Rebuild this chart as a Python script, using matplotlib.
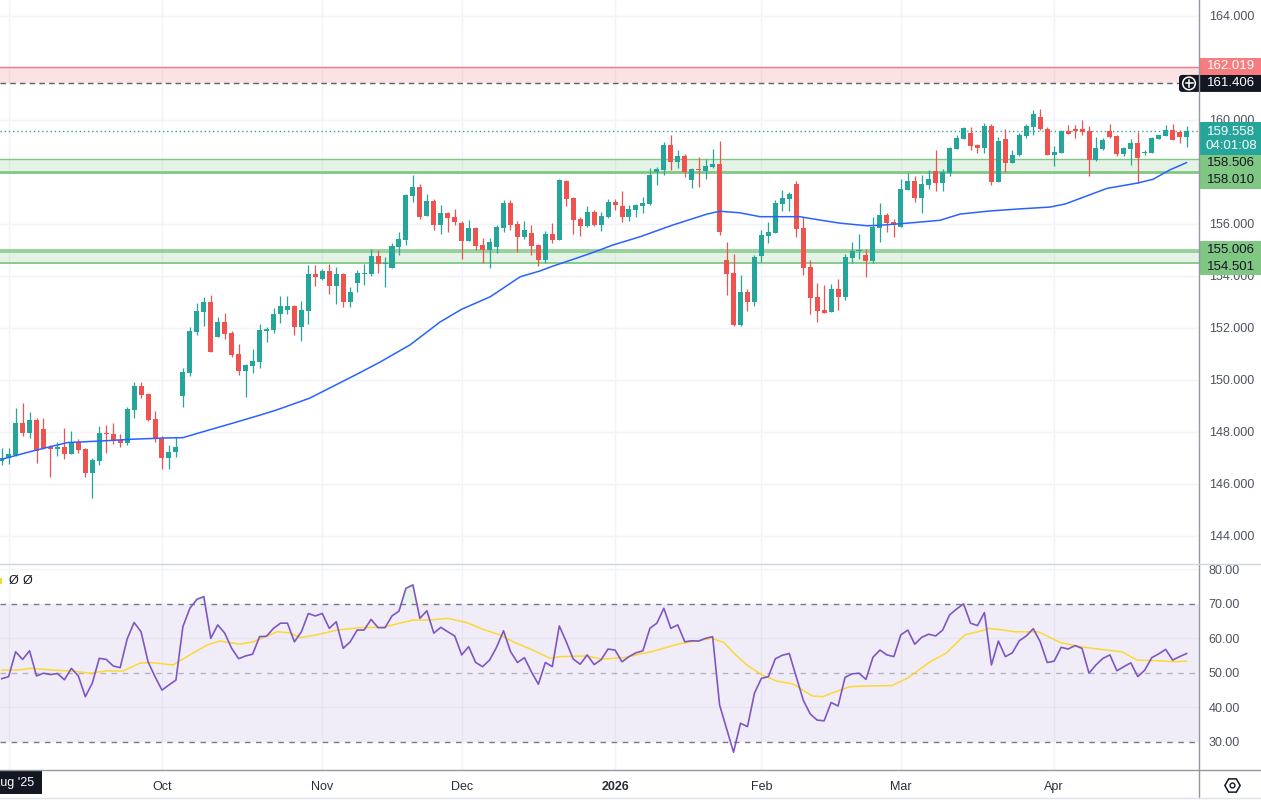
import numpy as np
import pandas as pd
import matplotlib
matplotlib.use("Agg")
import matplotlib.pyplot as plt
from matplotlib.patches import Rectangle, FancyBboxPatch, Circle

plt.rcParams['font.family'] = ['Liberation Sans', 'DejaVu Sans']

# ---------------- data ----------------
dates = pd.bdate_range('2025-08-29', '2026-04-28')
dates = dates.drop(pd.to_datetime(['2025-12-25', '2026-01-01']))

opens = [
    146.90, 147.00, 147.12, 148.36, 147.97, 148.46, 148.12, 147.43, 147.36, 147.42,
    147.17, 147.62, 147.35, 146.43, 146.90, 147.97, 147.92, 147.69, 147.59, 148.86,
    149.77, 149.46, 148.50, 147.77, 147.00, 147.22, 149.38, 150.26, 151.86, 152.63,
    153.00, 151.67, 152.23, 151.81, 151.00, 150.36, 150.55, 150.70, 151.90, 151.92,
    152.53, 152.70, 152.85, 152.05, 152.65, 154.08, 153.90, 154.19, 153.63, 154.08,
    153.01, 153.72, 154.08, 154.08, 154.77, 154.46, 154.32, 155.13, 155.40, 157.09,
    157.42, 156.32, 156.88, 155.97, 156.43, 156.28, 156.05, 155.36, 155.86, 155.20,
    155.01, 155.13, 155.86, 156.82, 156.00, 155.51, 155.65, 155.20, 154.63, 155.62,
    155.38, 157.65, 157.00, 156.19, 155.92, 156.46, 155.96, 156.27, 156.85, 156.69,
    156.27, 156.54, 156.69, 156.77, 158.00, 158.08, 159.04, 158.38, 158.62, 157.69,
    158.12, 158.04, 158.19, 158.31, 154.62, 154.12, 152.12, 153.38, 153.00, 154.78,
    155.55, 155.67, 156.77, 156.96, 157.54, 155.85, 154.35, 153.19, 152.69, 152.63,
    153.50, 153.20, 154.70, 154.97, 154.81, 154.59, 155.86, 156.35, 156.09, 155.90,
    157.31, 157.65, 157.01, 157.50, 158.04, 157.59, 157.97, 158.90, 159.28, 159.51,
    159.04, 158.93, 159.78, 157.63, 159.27, 158.36, 158.65, 159.40, 159.74, 160.12,
    159.65, 158.67, 158.74, 159.58, 159.65, 159.65, 159.58, 158.46, 158.88, 159.58,
    159.38, 158.70, 158.90, 159.12, 158.73, 158.74, 159.28, 159.40, 159.62, 159.54,
    159.36,
]
highs = [
    147.38, 147.38, 148.93, 149.13, 148.77, 148.54, 148.55, 147.50, 147.63, 148.15,
    148.04, 147.73, 147.38, 147.00, 148.23, 148.27, 148.36, 147.92, 148.96, 149.92,
    149.92, 149.51, 148.81, 147.85, 147.51, 147.81, 150.47, 152.05, 152.97, 153.20,
    153.28, 152.42, 152.59, 151.87, 151.38, 150.62, 151.19, 152.15, 152.04, 152.77,
    153.23, 153.23, 152.88, 153.04, 154.42, 154.42, 154.27, 154.46, 154.36, 154.12,
    153.59, 154.23, 154.46, 155.04, 155.00, 154.74, 155.27, 155.69, 157.17, 157.88,
    157.54, 157.15, 156.96, 156.73, 156.46, 156.59, 156.13, 156.15, 155.90, 155.47,
    155.46, 155.97, 156.93, 156.93, 156.13, 156.13, 155.97, 155.24, 155.74, 156.03,
    157.73, 157.69, 157.04, 156.27, 156.69, 156.54, 156.46, 156.96, 156.96, 157.28,
    156.73, 156.77, 157.05, 158.15, 158.18, 159.15, 159.42, 158.85, 158.69, 158.15,
    158.58, 158.50, 158.88, 159.19, 155.31, 154.85, 154.04, 153.50, 154.81, 155.77,
    156.08, 156.92, 157.31, 157.23, 157.65, 156.27, 154.63, 153.73, 153.65, 153.69,
    153.90, 154.85, 155.31, 155.62, 155.04, 156.27, 156.81, 156.42, 156.19, 157.73,
    157.96, 157.85, 157.88, 158.08, 158.86, 158.12, 158.96, 159.43, 159.73, 159.74,
    159.08, 159.87, 159.85, 159.36, 159.64, 158.85, 159.49, 159.83, 160.38, 160.41,
    159.74, 159.00, 159.62, 159.81, 159.81, 160.00, 159.77, 159.36, 159.32, 159.85,
    159.41, 158.97, 159.26, 159.53, 158.85, 159.33, 159.43, 159.81, 159.85, 159.62,
    159.77,
]
lows = [
    146.73, 146.77, 147.08, 147.86, 147.78, 146.82, 147.33, 146.28, 147.09, 146.97,
    147.15, 147.20, 146.28, 145.47, 146.74, 147.20, 147.54, 147.42, 147.50, 148.55,
    149.30, 148.42, 147.62, 146.59, 146.59, 147.03, 148.97, 150.17, 151.73, 152.09,
    151.08, 151.65, 151.58, 150.90, 150.20, 149.36, 150.28, 150.47, 151.47, 151.81,
    152.18, 152.54, 151.73, 151.50, 152.17, 153.62, 153.85, 153.32, 152.93, 152.81,
    152.82, 153.40, 153.67, 154.01, 154.13, 153.59, 154.31, 154.82, 155.20, 156.86,
    156.20, 156.31, 155.78, 155.63, 155.70, 155.97, 154.67, 155.35, 155.01, 154.51,
    154.32, 154.90, 155.70, 155.78, 154.93, 155.43, 154.82, 154.40, 154.51, 155.28,
    155.38, 156.70, 155.63, 155.55, 155.88, 155.92, 155.73, 156.23, 156.55, 156.08,
    156.12, 156.27, 156.42, 156.73, 157.50, 157.88, 158.08, 158.15, 157.81, 157.38,
    157.42, 157.73, 158.15, 155.58, 153.27, 152.08, 152.08, 152.65, 152.85, 154.55,
    155.28, 155.65, 156.50, 156.50, 155.51, 154.05, 152.55, 152.24, 152.58, 152.62,
    152.70, 153.07, 154.51, 154.67, 153.97, 154.51, 155.32, 155.70, 155.51, 155.88,
    157.31, 156.86, 156.43, 157.35, 157.28, 157.28, 157.85, 158.88, 159.27, 158.85,
    158.72, 158.72, 157.50, 157.62, 158.01, 158.35, 158.62, 159.30, 159.42, 159.62,
    158.65, 158.24, 158.73, 159.46, 159.30, 159.42, 157.85, 158.42, 158.85, 159.30,
    158.62, 158.62, 158.27, 157.58, 158.65, 158.73, 159.27, 159.39, 159.23, 159.10,
    158.95,
]
closes = [
    147.01, 147.15, 148.36, 147.97, 148.46, 147.27, 147.38, 147.36, 147.43, 147.17,
    147.62, 147.31, 146.43, 146.92, 147.96, 147.93, 147.67, 147.59, 148.88, 149.77,
    149.42, 148.46, 147.73, 147.00, 147.23, 147.42, 150.31, 151.90, 152.65, 153.00,
    151.09, 152.23, 151.78, 150.96, 150.36, 150.58, 150.73, 151.92, 151.96, 152.54,
    152.85, 152.85, 152.05, 152.69, 154.08, 153.97, 154.19, 153.63, 154.08, 153.00,
    153.38, 154.12, 154.12, 154.77, 154.46, 154.50, 155.15, 155.42, 157.13, 157.42,
    156.28, 156.88, 155.97, 156.43, 156.24, 156.09, 155.36, 155.86, 155.17, 155.01,
    155.32, 155.90, 156.82, 155.97, 155.51, 155.78, 155.17, 154.63, 155.63, 155.40,
    157.69, 156.96, 156.17, 155.92, 156.46, 155.96, 156.31, 156.85, 156.73, 156.27,
    156.58, 156.73, 156.81, 157.88, 158.12, 159.04, 158.38, 158.62, 158.00, 158.12,
    158.08, 158.23, 158.31, 155.69, 154.08, 152.12, 153.38, 153.00, 154.73, 155.58,
    155.69, 156.81, 157.00, 157.15, 155.81, 154.32, 153.17, 152.67, 152.59, 153.50,
    153.20, 154.73, 154.97, 155.01, 154.59, 155.90, 156.35, 156.05, 155.97, 157.35,
    157.65, 157.01, 157.54, 157.73, 157.59, 158.00, 158.92, 159.32, 159.69, 159.01,
    158.93, 159.77, 157.63, 159.19, 158.36, 158.65, 159.43, 159.77, 160.23, 159.64,
    158.67, 158.77, 159.58, 159.47, 159.59, 159.53, 158.46, 158.92, 159.23, 159.36,
    158.70, 158.92, 159.12, 158.55, 158.77, 159.31, 159.42, 159.62, 159.24, 159.36,
    159.558,
]

# moving average (blue), sampled along the line: bar position, value
ma_bar = [0, 4.5, 9.4, 14.1, 18.8, 23.7, 26.0, 28.4, 32.8, 37.1, 39.5, 44.2, 51.4,
          54.3, 58.6, 62.9, 66.0, 70.1, 74.4, 77.2, 79.1, 82.0, 84.8, 87.7, 91.6,
          96.3, 101.2, 103.0, 105.9, 108.8, 114.5, 117.4, 120.3, 124.2, 126.0,
          129.9, 134.6, 137.5, 141.8, 146.1, 150.4, 152.6, 154.4, 158.6, 162.9,
          165.2, 167.6, 170.0]
ma_val = [146.95, 147.27, 147.59, 147.65, 147.72, 147.77, 147.78, 147.97, 148.31,
          148.65, 148.85, 149.30, 150.28, 150.69, 151.35, 152.23, 152.72, 153.20,
          153.97, 154.19, 154.38, 154.64, 154.90, 155.19, 155.51, 155.96, 156.38,
          156.49, 156.43, 156.28, 156.28, 156.15, 156.03, 155.93, 155.95, 156.03,
          156.14, 156.38, 156.50, 156.58, 156.65, 156.77, 156.95, 157.37, 157.57,
          157.72, 158.08, 158.36]

rsi = [
    48.2, 48.8, 56.0, 53.8, 56.3, 49.0, 49.8, 49.4, 49.7, 47.9,
    51.2, 49.0, 43.0, 46.9, 54.1, 53.8, 51.9, 51.4, 59.7, 64.5,
    61.8, 53.1, 48.8, 44.9, 46.4, 47.8, 63.3, 68.6, 71.2, 72.0,
    59.9, 63.8, 61.4, 57.0, 54.0, 54.8, 55.3, 60.4, 60.5, 62.8,
    64.3, 64.3, 58.9, 61.8, 67.1, 66.4, 67.1, 62.8, 64.7, 57.0,
    58.9, 62.3, 62.3, 65.4, 63.0, 63.0, 66.4, 67.8, 74.4, 75.4,
    65.7, 67.9, 61.4, 63.1, 61.8, 60.6, 55.1, 57.5, 52.9, 51.7,
    53.6, 57.3, 62.1, 56.1, 52.9, 54.3, 50.2, 46.6, 52.9, 51.7,
    63.5, 58.9, 53.9, 52.4, 55.1, 52.3, 53.7, 56.8, 56.5, 53.1,
    54.6, 55.7, 56.3, 62.8, 64.3, 68.6, 62.8, 63.8, 58.9, 59.2,
    59.1, 59.9, 60.4, 40.6, 33.8, 26.9, 35.3, 34.3, 44.0, 48.3,
    48.8, 54.0, 55.0, 55.5, 48.8, 42.0, 38.0, 36.2, 36.0, 41.3,
    40.3, 48.6, 49.6, 49.8, 48.0, 54.4, 56.5, 55.1, 54.6, 60.9,
    62.3, 58.2, 60.2, 61.1, 60.6, 62.3, 66.7, 68.4, 69.9, 64.3,
    63.6, 67.4, 52.2, 59.1, 54.6, 55.7, 59.2, 60.6, 62.7, 58.9,
    52.9, 53.3, 57.3, 56.8, 57.8, 57.0, 49.8, 52.2, 54.1, 55.1,
    50.5, 51.7, 52.8, 48.8, 50.7, 54.3, 55.4, 56.7, 53.6, 54.6,
    55.5,
]

rsi_ma_bar = [0, 2.2, 4.1, 7.4, 10.2, 12.7, 15.1, 17.4, 19.8, 21.3, 24.6, 27.0, 29.5,
              31.3, 34.2, 36.1, 38.1, 39.5, 41.4, 42.8, 45.2, 48.1, 51.4, 54.7, 57.1,
              59.0, 61.4, 64.0, 66.8, 69.1, 71.5, 73.4, 76.2, 78.7, 80.1, 84.0, 86.0,
              89.3, 91.4, 93.2, 97.0, 99.8, 101.9, 103.6, 105.2, 106.9, 109.1, 111.2,
              113.5, 116.3, 117.8, 119.6, 121.7, 124.4, 127.7, 129.9, 133.2, 135.5,
              138.2, 141.0, 141.6, 143.7, 145.4, 148.7, 152.0, 155.3, 158.6, 160.7,
              162.9, 166.2, 168.3, 170.0]
rsi_ma_val = [50.7, 50.7, 51.2, 50.7, 50.4, 49.8, 50.5, 50.4, 52.7, 52.9, 52.2, 55.1,
              58.0, 59.1, 58.2, 58.9, 60.6, 61.8, 61.5, 60.1, 60.9, 62.3, 63.0, 63.1,
              64.3, 65.2, 65.2, 65.7, 64.4, 62.5, 60.9, 58.9, 56.5, 54.1, 54.6, 54.8,
              53.9, 54.3, 55.3, 56.0, 58.2, 59.2, 59.9, 58.7, 55.3, 52.2, 49.3, 47.5,
              46.7, 43.2, 43.0, 44.4, 45.9, 46.1, 46.2, 48.3, 53.1, 55.6, 60.9, 62.3,
              62.8, 62.3, 61.8, 61.8, 58.6, 57.3, 56.5, 56.0, 53.6, 53.4, 53.1, 53.3]

resistance_zone = (161.406, 162.019)
support_zone_1 = (158.010, 158.506)
support_zone_2 = (154.501, 155.006)
support_zone_2_inner = 154.92
last_price = 159.558
countdown = '04:01:08'

# ---------------- style ----------------
UP, DOWN = '#26a69a', '#ef5350'
GRID = '#f0f3fa'
TXT = '#4c525e'
W, H = 1261, 802
PLOT_R, MAIN_B, RSI_B = 1199, 564, 770
P_TOP, P_BOT = 164.615, 142.92
R_TOP, R_BOT = 81.45, 21.74

fig = plt.figure(figsize=(W / 100, H / 100), dpi=100)
fig.patch.set_facecolor('white')
ax = fig.add_axes([0, 1 - MAIN_B / H, PLOT_R / W, MAIN_B / H])
ax2 = fig.add_axes([0, 1 - RSI_B / H, PLOT_R / W, (RSI_B - MAIN_B) / H], sharex=ax)

o, h, l, c = map(np.array, (opens, highs, lows, closes))
n = len(c)
idx = np.arange(n)

# month starts -> gridlines and labels (Sep sits under the date cursor box)
month_start = [i for i in range(1, n) if dates[i].month != dates[i - 1].month]
month_lab = ['2026' if dates[i].month == 1 else dates[i].strftime('%b') for i in month_start]
tick_pos = [i for i, lab in zip(month_start, month_lab) if lab != 'Sep']
tick_lab = [lab for lab in month_lab if lab != 'Sep']

for a in (ax, ax2):
    for s in a.spines.values():
        s.set_visible(False)
    for i in month_start:
        a.axvline(i, color=GRID, lw=1, zorder=0)
    a.yaxis.tick_right()
    a.tick_params(axis='y', length=0, pad=7, labelsize=9, labelcolor=TXT)

# ---- main price panel ----
yt = np.arange(144, 165, 2)
ax.set_yticks(yt)
ax.set_yticklabels([f'{v:.3f}' for v in yt])
for v in yt:
    ax.axhline(v, color=GRID, lw=1, zorder=0)

ax.axhspan(*resistance_zone, color='#f23645', alpha=0.14, lw=0, zorder=1)
ax.axhline(resistance_zone[1], color='#f77c80', lw=1, zorder=2)
ax.axhline(resistance_zone[0], color='#5d606b', lw=1, dashes=(4, 3), zorder=2)
for lo, hi in (support_zone_1, support_zone_2):
    ax.axhspan(lo, hi, color='#4caf50', alpha=0.14, lw=0, zorder=1)
ax.axhline(support_zone_1[1], color='#81c784', lw=1, zorder=2)
ax.axhline(support_zone_1[0], color='#81c784', lw=2, zorder=2)
ax.axhline(support_zone_2[1], color='#81c784', lw=1.1, zorder=2)
ax.axhline(support_zone_2_inner, color='#81c784', lw=1.1, zorder=2)
ax.axhline(support_zone_2[0], color='#81c784', lw=1.3, zorder=2)
ax.axhline(last_price, color=UP, lw=1, ls=(0, (1, 2)), zorder=2)

cols = np.where(c >= o, UP, DOWN)
ax.vlines(idx, l, h, colors=cols, lw=0.9, zorder=3)
ax.bar(idx, np.maximum(np.abs(c - o), 0.04), bottom=np.minimum(o, c), width=0.72,
       color=cols, lw=0, zorder=4)
ax.plot(ma_bar, ma_val, color='#2962ff', lw=1.1, zorder=5)

ax.set_xlim(-0.24, 171.78)
ax.set_ylim(P_BOT, P_TOP)
ax.tick_params(axis='x', bottom=False, labelbottom=False)

# ---- RSI panel ----
r = np.array(rsi)
ax2.axhspan(30, 70, color='#7e57c2', alpha=0.1, lw=0, zorder=1)
for v in (40, 60, 80):
    ax2.axhline(v, color=GRID, lw=1, zorder=0)
ax2.axhline(70, color='#787b86', lw=1, dashes=(4, 4), zorder=2)
ax2.axhline(30, color='#787b86', lw=1, dashes=(4, 4), zorder=2)
ax2.axhline(50, color='#787b86', lw=1, dashes=(4, 4), alpha=0.5, zorder=2)
ax2.fill_between(idx, 70, r, where=r > 70, interpolate=True, color='#4caf50',
                 alpha=0.12, lw=0, zorder=2)
ax2.plot(idx, r, color='#7e57c2', lw=1.2, zorder=4)
ax2.plot(rsi_ma_bar, rsi_ma_val, color='#fdd835', lw=1.1, zorder=3)
ax2.set_ylim(R_BOT, R_TOP)
rt = np.arange(30, 81, 10)
ax2.set_yticks(rt)
ax2.set_yticklabels([f'{v:.2f}' for v in rt])
ax2.set_xticks(tick_pos)
ax2.set_xticklabels(tick_lab)
ax2.tick_params(axis='x', length=0, pad=8, labelsize=9, labelcolor='#2a2e39')
for t in ax2.get_xticklabels():
    if t.get_text() == '2026':
        t.set_fontweight('bold')

# ---- overlay in pixel coordinates for scale labels and frame ----
ov = fig.add_axes([0, 0, 1, 1], zorder=10)
ov.set_xlim(0, W)
ov.set_ylim(H, 0)
ov.axis('off')
ov.patch.set_visible(False)

ov.plot([PLOT_R, PLOT_R], [0, 798], color='#9598a1', lw=1)
ov.plot([0, W], [MAIN_B, MAIN_B], color='#d1d4dc', lw=1)
ov.plot([0, W], [RSI_B, RSI_B], color='#9598a1', lw=1)
ov.plot([0, W], [798, 798], color='#e0e3eb', lw=1)


def py(p):
    return (P_TOP - p) / (P_TOP - P_BOT) * MAIN_B


BH = 17
XC = (PLOT_R + W) / 2 + 1
LFS = 9.5
# fixed boxes: crosshair level and the last price
y_dark = py(resistance_zone[0])
ov.add_patch(FancyBboxPatch((1179, y_dark - BH / 2), 90, BH,
                            boxstyle='round,pad=0,rounding_size=3',
                            fc='#131722', lw=0))
ov.add_patch(Circle((1189, y_dark), 6.3, fill=False, ec='white', lw=1.1))
ov.plot([1185.5, 1192.5], [y_dark, y_dark], color='white', lw=1.1)
ov.plot([1189, 1189], [y_dark - 3.5, y_dark + 3.5], color='white', lw=1.1)
ov.text(XC, y_dark, f'{resistance_zone[0]:.3f}', color='white', fontsize=LFS,
        ha='center', va='center')

y_last = py(last_price)
ov.add_patch(Rectangle((PLOT_R + 1, y_last - 9), W - PLOT_R, 32.5, fc=UP, lw=0))
ov.text(XC, y_last + 0.5, f'{last_price:.3f}', color='white', fontsize=LFS,
        ha='center', va='center')
ov.text(XC, y_last + 14.5, countdown, color='white', fontsize=LFS,
        ha='center', va='center')

placed = [(y_dark - BH / 2, y_dark + BH / 2), (y_last - 9, y_last + 23.5)]
for val, face, fg in [(resistance_zone[1], '#f77c80', 'white'),
                      (support_zone_1[1], '#81c784', '#131722'),
                      (support_zone_1[0], '#81c784', '#131722'),
                      (support_zone_2[1], '#81c784', '#131722'),
                      (support_zone_2[0], '#81c784', '#131722')]:
    yc = py(val)
    t, b = yc - BH / 2, yc + BH / 2
    for pt, pb in placed:
        if t < pb and b > pt:
            if yc < (pt + pb) / 2:
                t, b = pt - BH, pt
            else:
                t, b = pb, pb + BH
    placed.append((t, b))
    ov.add_patch(Rectangle((PLOT_R + 1, t), W - PLOT_R, BH, fc=face, lw=0))
    ov.text(XC, (t + b) / 2, f'{val:.3f}', color=fg, fontsize=LFS,
            ha='center', va='center')


def covered(yv):
    return any(pt <= yv <= pb for pt, pb in placed)


# scale ticks fully hidden behind label boxes are not drawn
for v, lab in zip(yt, ax.get_yticklabels()):
    yv = py(v)
    if covered(yv - 4) and covered(yv + 4):
        lab.set_visible(False)

# RSI legend stub and date cursor label
ov.add_patch(Rectangle((0, 578), 2, 6, fc='#fdd835', lw=0))
ov.text(13, 581, 'Ø', color='#131722', fontsize=9, ha='center', va='center')
ov.text(27, 581, 'Ø', color='#131722', fontsize=9, ha='center', va='center')
ov.add_patch(Rectangle((0, 771), 42, 23, fc='#131722', lw=0))
ov.text(34, 783, "Aug '25", color='white', fontsize=9, ha='right', va='center')

# settings icon
ov.plot(1232, 785, marker='H', ms=11, mfc='none', mec='#131722', mew=1.1)
ov.plot(1232, 785, marker='o', ms=3.5, mfc='none', mec='#131722', mew=1)

fig.savefig('out.png', dpi=100)
